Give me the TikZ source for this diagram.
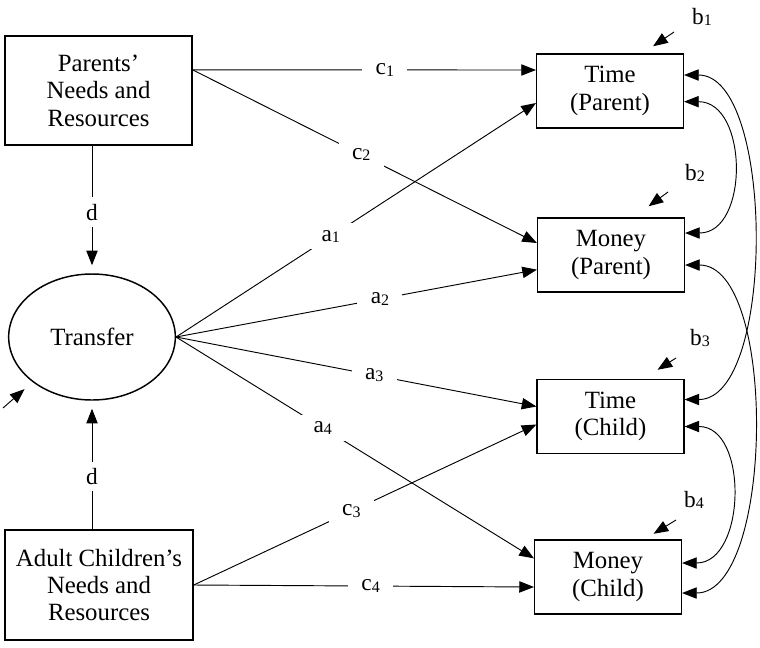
\documentclass[tikz,border=0pt]{standalone}
\usepackage{fontspec}
\setmainfont{Liberation Serif}
\usetikzlibrary{arrows.meta,shapes.geometric}

\newcommand\pathlab[2]{#1\raisebox{-1.2pt}{\fontsize{12}{12}\selectfont #2}}

\begin{document}
\begin{tikzpicture}[x=0.75pt,y=-0.75pt,
    var/.style={draw, line width=1.1pt, align=center, font=\fontsize{18.6}{20.6}\selectfont},
    obs/.style={var, minimum width=110pt, minimum height=55.5pt},
    path/.style={-{Triangle[length=11pt,width=8.5pt]}, line width=0.7pt},
    cov/.style={{Triangle[length=11pt,width=8.5pt]}-{Triangle[length=11pt,width=8.5pt]}, line width=0.7pt},
    coef/.style={fill=white, inner xsep=10pt, inner ysep=5pt, font=\fontsize{17.5}{19}\selectfont}]
  \useasboundingbox (0,0) rectangle (760,647);

  \node[var, minimum width=140pt, minimum height=82pt] (parents) at (98.5,90.5) {Parents’\\Needs and\\Resources};
  \node[var, minimum width=141pt, minimum height=82.5pt] (children) at (99,585) {Adult Children’s\\Needs and\\Resources};
  \node[var, ellipse, minimum width=125pt, minimum height=94.5pt, inner sep=0pt] (transfer) at (92,337) {Transfer};

  \node[obs] (timeP) at (610,91) {Time\\(Parent)};
  \node[obs] (moneyP) at (611,255) {Money\\(Parent)};
  \node[obs] (timeC) at (610.5,416.5) {Time\\(Child)};
  \node[obs] (moneyC) at (608,577) {Money\\(Child)};

  \draw[path, shorten >=6pt] (parents.south -| transfer.north) -- node[coef, pos=.52] {d} (transfer.north);
  \draw[path, shorten >=6pt] (children.north -| transfer.south) -- node[coef, pos=.41] {d} (transfer.south);

  \draw[path] ([yshift=15.5pt]parents.east) -- node[coef, pos=.56] {\pathlab{c}{1}} ([yshift=15.75pt]timeP.west);
  \draw[path] ([yshift=15.5pt]parents.east) -- node[coef, pos=.49] {\pathlab{c}{2}} ([yshift=9pt]moneyP.west);
  \draw[path] (children.east) -- node[coef, pos=.46] {\pathlab{c}{3}} ([yshift=-6pt]timeC.west);
  \draw[path] (children.east) -- node[coef, pos=.52] {\pathlab{c}{4}} ([yshift=-7.5pt]moneyC.west);

  \draw[path] (transfer.east) -- node[coef, pos=.43] {\pathlab{a}{1}} ([yshift=-9pt]timeP.west);
  \draw[path] (transfer.east) -- node[coef, pos=.565] {\pathlab{a}{2}} ([yshift=-11pt]moneyP.west);
  \draw[path] (transfer.east) -- node[coef, pos=.55] {\pathlab{a}{3}} ([yshift=7.5pt]timeC.west);
  \draw[path] (transfer.east) -- node[coef, pos=.41] {\pathlab{a}{4}} ([yshift=14pt]moneyC.west);

  \coordinate (e0) at (3,408);
  \draw[path, shorten >=8pt] (e0) -- (transfer.south west);

  \node[coef, fill=none, inner sep=0pt] (b1) at (702,17) {\pathlab{b}{1}};
  \node[coef, fill=none, inner sep=0pt] (b2) at (695,173) {\pathlab{b}{2}};
  \node[coef, fill=none, inner sep=0pt] (b3) at (700,338) {\pathlab{b}{3}};
  \node[coef, fill=none, inner sep=0pt] (b4) at (694,500) {\pathlab{b}{4}};
  \coordinate (e1) at (674,32);
  \coordinate (e2) at (668,192);
  \coordinate (e3) at (676,358);
  \coordinate (e4) at (676,520);
  \draw[path] (e1) -- ([shift={(-31,-7)}]timeP.north east);
  \draw[path] (e2) -- ([shift={(-36.5,-11)}]moneyP.north east);
  \draw[path] (e3) -- ([shift={(-27,-9)}]timeC.north east);
  \draw[path] (e4) -- ([shift={(-28.5,-5.5)}]moneyC.north east);

  \draw[cov] ([yshift=12pt]timeP.east) to[out=0, in=0, looseness=0.72] ([yshift=12.75pt]timeC.east);
  \draw[cov] ([yshift=-7.5pt]moneyP.east) to[out=0, in=0, looseness=0.72] ([yshift=-12pt]moneyC.east);
  \draw[cov] ([yshift=-8pt]timeP.east) to[out=0, in=0, looseness=1.25] ([yshift=16.5pt]moneyP.east);
  \draw[cov] ([yshift=-7.5pt]timeC.east) to[out=0, in=0, looseness=1.2] ([yshift=10.5pt]moneyC.east);
\end{tikzpicture}
\end{document}
